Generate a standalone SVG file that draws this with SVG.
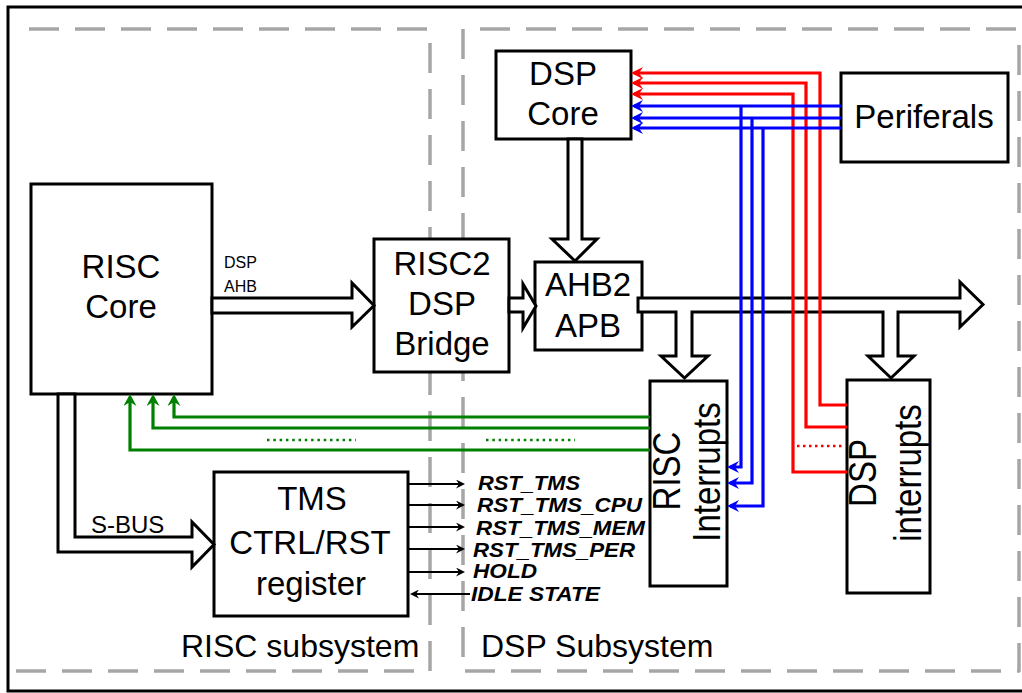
<svg xmlns="http://www.w3.org/2000/svg" width="1022" height="693" viewBox="0 0 1022 693">
<defs>
<style>
.box{fill:#fff;stroke:#000;stroke-width:3}
.bus{fill:#fff;stroke:#000;stroke-width:3;stroke-linejoin:miter}
.t{font-family:"Liberation Sans",Arial,sans-serif;fill:#000}
.big{font-size:33px}
.lbl{font-size:32px}
.sig{font-size:21px;font-weight:bold;font-style:italic}
.dash{fill:none;stroke:#a6a6a6;stroke-width:3.5;stroke-dasharray:30 16}
.red{fill:none;stroke:#ff0000;stroke-width:3.2}
.blue{fill:none;stroke:#0000ff;stroke-width:3.2}
.green{fill:none;stroke:#008000;stroke-width:3.2}
.blk{fill:none;stroke:#000;stroke-width:2}
.dotg{fill:none;stroke:#008000;stroke-width:2.5;stroke-dasharray:2.5 3.8}
.dotr{fill:none;stroke:#ff0000;stroke-width:2.5;stroke-dasharray:2.5 3.5}
</style>
<marker id="aR" markerUnits="userSpaceOnUse" markerWidth="12" markerHeight="12" refX="9" refY="6" orient="auto" viewBox="0 0 12 12"><path d="M0,0 L12,6 L0,12 L4,6 Z" fill="#ff0000"/></marker>
<marker id="aB" markerUnits="userSpaceOnUse" markerWidth="12" markerHeight="12" refX="9" refY="6" orient="auto" viewBox="0 0 12 12"><path d="M0,0 L12,6 L0,12 L4,6 Z" fill="#0000ff"/></marker>
<marker id="aG" markerUnits="userSpaceOnUse" markerWidth="12" markerHeight="13" refX="9" refY="6.5" orient="auto" viewBox="0 0 12 13"><path d="M0,0 L12,6.5 L0,13 L4,6.5 Z" fill="#008000"/></marker>
<marker id="aK" markerUnits="userSpaceOnUse" markerWidth="9" markerHeight="9" refX="7" refY="4.5" orient="auto" viewBox="0 0 9 9"><path d="M0,0 L9,4.5 L0,9 L3,4.5 Z" fill="#000"/></marker>
</defs>
<rect width="1022" height="693" fill="#fff"/>
<g id="frame">
<rect x="8" y="7" width="1022" height="684" fill="none" stroke="#000" stroke-width="3"/>
<path class="dash" d="M29,29 H430"/>
<path class="dash" d="M430,43 V672"/>
<path class="dash" d="M16,671 H416"/>
<path class="dash" d="M463,29 V672"/>
<path class="dash" d="M480,29 H1020"/>
<path class="dash" d="M1019,45 V672"/>
<path class="dash" d="M465,671 H1020"/>
<text class="t lbl" x="181" y="657">RISC subsystem</text>
<text class="t lbl" x="481" y="657">DSP Subsystem</text>
</g>
<g id="risc-core">
<rect class="box" x="31" y="184" width="181" height="210"/>
<text class="t big" x="121" y="278" text-anchor="middle">RISC</text>
<text class="t big" x="121" y="318" text-anchor="middle">Core</text>
</g>
<g id="bridge">
<rect class="box" x="374" y="239" width="135" height="133"/>
<text class="t big" x="442" y="275" text-anchor="middle">RISC2</text>
<text class="t big" x="442" y="315" text-anchor="middle">DSP</text>
<text class="t big" x="442" y="355" text-anchor="middle">Bridge</text>
</g>
<g id="ahb2apb">
<rect class="box" x="535" y="262" width="107" height="88"/>
<text class="t big" x="588" y="296" text-anchor="middle">AHB2</text>
<text class="t big" x="588" y="337" text-anchor="middle">APB</text>
</g>
<g id="dsp-core">
<rect class="box" x="496" y="51" width="135" height="88"/>
<text class="t big" x="563" y="85" text-anchor="middle">DSP</text>
<text class="t big" x="563" y="125" text-anchor="middle">Core</text>
</g>
<g id="periferals">
<rect class="box" x="841" y="73" width="167" height="89"/>
<text class="t big" x="924" y="128" text-anchor="middle">Periferals</text>
</g>
<g id="risc-interrupts">
<rect class="box" x="650" y="381" width="77" height="205"/>
<text class="t big" transform="translate(680,471) rotate(-90) scale(1,1.15)" text-anchor="middle">RISC</text>
<text class="t big" transform="translate(720,472) rotate(-90) scale(1,1.15)" text-anchor="middle">Interrupts</text>
</g>
<g id="dsp-interrupts">
<rect class="box" x="847" y="380" width="83" height="213"/>
<text class="t big" transform="translate(876,473) rotate(-90) scale(1,1.15)" text-anchor="middle">DSP</text>
<text class="t big" transform="translate(921,473) rotate(-90) scale(1,1.15)" text-anchor="middle">interrupts</text>
</g>
<g id="tms">
<rect class="box" x="214" y="472" width="194" height="144"/>
<text class="t big" x="312" y="510" text-anchor="middle">TMS</text>
<text class="t big" x="310" y="554" text-anchor="middle">CTRL/RST</text>
<text class="t big" x="311" y="595" text-anchor="middle">register</text>
</g>
<g id="connectors">
<polygon class="bus" points="212,298 352,298 352,283 374,305.5 352,327 352,313 212,313"/>
<text class="t" font-size="16" x="224" y="268">DSP</text>
<text class="t" font-size="16" x="224" y="292">AHB</text>
<polygon class="bus" points="509,298 523,298 523,284 536,306 523,328 523,312 509,312"/>
<polygon class="bus" points="568,139 568,239 552,239 575,261 597,239 582,239 582,139"/>
<polygon class="bus" points="638,298 960,298 960,282 983,304.5 960,327 960,312 898,312 898,356 914,356 891,378 868,356 883,356 883,312 692,312 692,356 708,356 684.5,378 661,356 676,356 676,312 638,312"/>
<polygon class="bus" points="58,394 58,552 192,552 192,567 214,544.5 192,522 192,537 75,537 75,394"/>
<text class="t" font-size="24" x="91" y="533">S-BUS</text>
<path class="red" d="M847,405 H820 V73 H634" marker-end="url(#aR)"/>
<path class="red" d="M847,427 H806 V83 H634" marker-end="url(#aR)"/>
<path class="red" d="M847,472 H793 V94 H634" marker-end="url(#aR)"/>
<path class="dotr" d="M797,446 H843"/>
<path class="blue" d="M841,106 H634" marker-end="url(#aB)"/>
<path class="blue" d="M841,118 H634" marker-end="url(#aB)"/>
<path class="blue" d="M841,128 H634" marker-end="url(#aB)"/>
<path class="blue" d="M741,106 V467 H730" marker-end="url(#aB)"/>
<path class="blue" d="M752,118 V483 H730" marker-end="url(#aB)"/>
<path class="blue" d="M763,128 V506 H730" marker-end="url(#aB)"/>
<path class="green" d="M650,417 H174 V397" marker-end="url(#aG)"/>
<path class="green" d="M650,428 H153 V397" marker-end="url(#aG)"/>
<path class="green" d="M650,450 H130 V397" marker-end="url(#aG)"/>
<path class="dotg" d="M267,440 H356"/>
<path class="dotg" d="M486,440 H575"/>
<path class="blk" d="M408,484 H463" marker-end="url(#aK)"/>
<path class="blk" d="M408,505 H463" marker-end="url(#aK)"/>
<path class="blk" d="M408,527 H463" marker-end="url(#aK)"/>
<path class="blk" d="M408,549 H463" marker-end="url(#aK)"/>
<path class="blk" d="M408,572 H463" marker-end="url(#aK)"/>
<path class="blk" d="M470,594 H412" marker-end="url(#aK)"/>
<text class="t sig" x="478" y="490" textLength="102" lengthAdjust="spacingAndGlyphs">RST_TMS</text>
<text class="t sig" x="477" y="512" textLength="165" lengthAdjust="spacingAndGlyphs">RST_TMS_CPU</text>
<text class="t sig" x="476" y="535" textLength="169" lengthAdjust="spacingAndGlyphs">RST_TMS_MEM</text>
<text class="t sig" x="473" y="557" textLength="162" lengthAdjust="spacingAndGlyphs">RST_TMS_PER</text>
<text class="t sig" x="473" y="578" textLength="64" lengthAdjust="spacingAndGlyphs">HOLD</text>
<text class="t sig" x="471" y="601" textLength="129" lengthAdjust="spacingAndGlyphs">IDLE STATE</text>
</g>
</svg>
